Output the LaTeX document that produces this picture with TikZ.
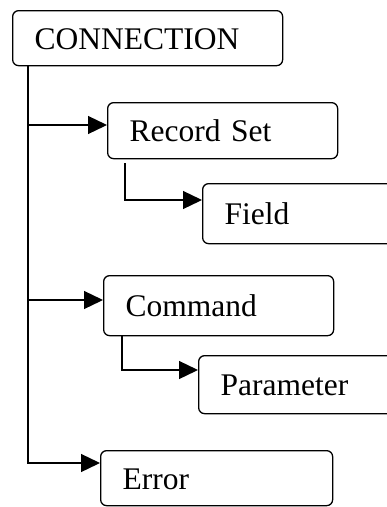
\documentclass[tikz,border=0pt]{standalone}
\usepackage{fontspec}
\setmainfont{Liberation Serif}
\usepackage{tikz}
\usetikzlibrary{arrows.meta}

\tikzset{
  boite/.style={draw, line width=1.3pt, rounded corners=6pt, anchor=north west,
    inner xsep=22pt, inner ysep=0pt, align=left, text height=22pt, text depth=0pt,
    font=\rmfamily\fontsize{31.5}{36}\selectfont},
  fleche/.style={line width=1.3pt, -{Triangle[length=19pt,width=18pt]}}
}

\begin{document}
\begin{tikzpicture}[x=1pt,y=-1pt]
            \useasboundingbox (0,0) rectangle (387,507);
            \clip (0,0) rectangle (387,507);

            % Les boîtes
            \node[boite, text width=226pt, minimum height=55pt] (conn) at (12,10) {CONNECTION};
            \node[boite, text width=186pt, minimum height=56pt] (rs) at (107,102) {Record Set};
            \node[boite, text width=210pt, minimum height=60pt] (field) at (202,183) {Field};
            \node[boite, text width=186pt, minimum height=60pt] (cmd) at (103,275) {Command};
            \node[boite, text width=210pt, minimum height=58pt] (par) at (198,355) {Parameter};
            \node[boite, text width=188pt, minimum height=55pt] (err) at (100,450) {Error};

            % Les liens
            \draw[fleche] ([xshift=16pt]conn.south west) |- ([yshift=-23pt]rs.north west);
            \draw[fleche] ([xshift=16pt]conn.south west) |- ([yshift=-25pt]cmd.north west);
            \draw[fleche] ([xshift=16pt]conn.south west) |- ([yshift=-13pt]err.north west);
            \draw[fleche] ([xshift=18pt,yshift=-4pt]rs.south west) |- ([yshift=-17pt]field.north west);
            \draw[fleche] ([xshift=19pt]cmd.south west) |- ([yshift=-15pt]par.north west);
        \end{tikzpicture}
\end{document}
